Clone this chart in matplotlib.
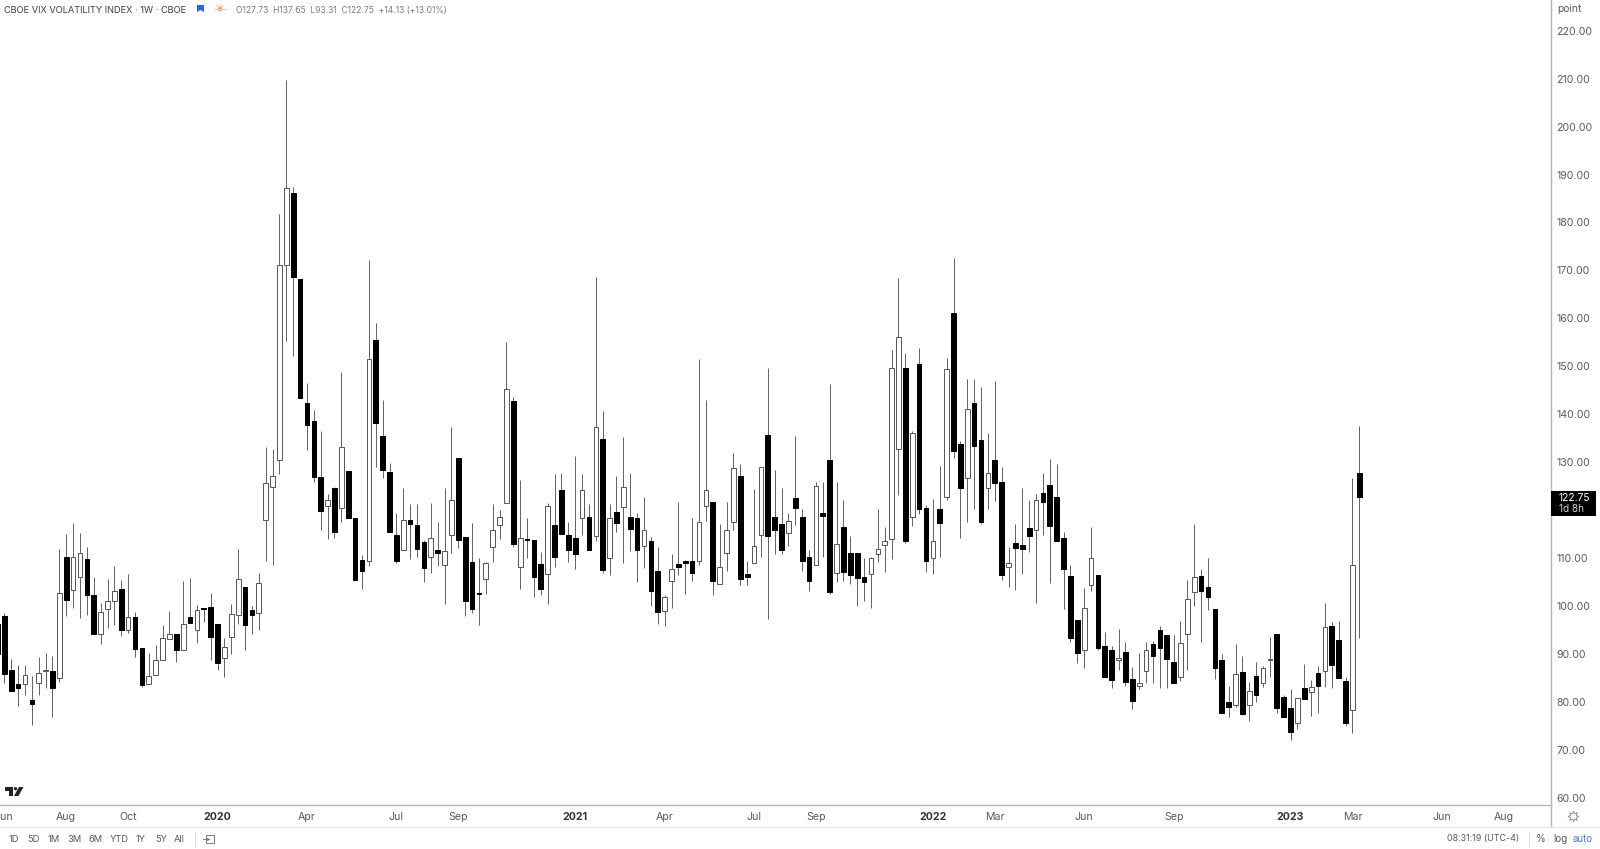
"""CBOE VIX weekly candles, TradingView style."""
import numpy as np
import matplotlib
matplotlib.use("Agg")
import matplotlib.pyplot as plt
from matplotlib.patches import Polygon, Rectangle, Circle

plt.rcParams["font.family"] = ["Inter", "DejaVu Sans"]

# weekly candles, first one is only just cut off by the left edge
opens = [
    96.4, 98.0, 86.8, 83.7, 83.7, 80.5, 83.9, 86.6, 86.6, 85.1, 110.3,
    103.3, 106.1, 109.9, 102.3, 94.3, 99.4, 101.0, 103.5, 95.0, 97.8,
    91.2, 83.7, 85.6, 88.9, 93.2, 94.3, 90.8, 97.8, 95.1, 99.6,
    99.8, 96.3, 89.2, 93.5, 98.1, 104.0, 99.3, 98.5, 118.0, 124.9,
    130.4, 171.2, 186.1, 168.2, 142.4, 138.6, 126.9, 120.8, 124.7, 120.4,
    128.2, 118.3, 109.6, 109.4, 155.5, 135.4, 127.9, 114.9, 111.7, 117.9,
    116.9, 113.3, 110.3, 111.7, 108.6, 114.9, 130.9, 114.4, 109.2, 102.8,
    105.6, 112.4, 117.0, 121.5, 142.7, 108.2, 114.1, 113.9, 108.8, 106.7,
    116.9, 124.3, 114.9, 114.2, 118.3, 118.7, 114.7, 134.8, 110.1, 119.6,
    120.6, 118.6, 118.3, 112.6, 113.5, 107.3, 99.0, 105.3, 108.8, 109.4,
    109.4, 109.5, 120.8, 121.8, 104.7, 111.0, 117.5, 127.2, 106.7, 109.0,
    114.8, 135.8, 118.6, 117.1, 115.3, 122.6, 118.6, 110.3, 108.7, 119.4,
    130.5, 106.9, 116.5, 111.0, 111.2, 106.2, 106.8, 110.8, 112.7, 114.0,
    132.7, 149.7, 118.7, 150.4, 120.4, 110.0, 120.3, 122.8, 161.1, 133.8,
    126.7, 142.4, 134.7, 124.7, 130.4, 125.9, 108.2, 113.1, 112.8, 116.4,
    115.8, 123.7, 125.3, 122.8, 114.2, 106.3, 97.1, 90.9, 104.4, 106.5,
    91.8, 90.9, 88.7, 90.5, 84.8, 83.4, 86.4, 92.1, 95.0, 94.0,
    88.4, 85.2, 94.3, 103.0, 106.4, 104.1, 99.4, 88.9, 80.1, 79.4,
    86.3, 79.5, 85.5, 83.9, 88.7, 94.3, 81.0, 78.7, 75.7, 83.0,
    82.2, 86.1, 86.4, 95.9, 93.0, 84.4, 78.3, 127.73,
]
highs = [
    96.4, 98.5, 89.1, 87.8, 87.8, 85.5, 89.5, 90.3, 89.6, 111.9, 115.1,
    117.4, 115.2, 112.3, 106.0, 100.6, 105.7, 108.4, 105.5, 106.7, 98.7,
    91.2, 90.3, 91.9, 96.0, 99.1, 94.3, 105.3, 105.8, 100.3, 99.7,
    102.7, 96.3, 93.3, 100.5, 111.9, 104.1, 100.1, 106.9, 133.1, 132.7,
    181.8, 209.7, 187.5, 168.2, 146.6, 140.9, 136.6, 123.4, 124.9, 148.9,
    128.2, 118.3, 110.7, 172.2, 159.0, 142.9, 129.8, 119.5, 124.6, 121.3,
    121.3, 113.8, 121.5, 117.6, 124.7, 137.4, 130.9, 114.4, 117.4, 110.1,
    109.3, 121.3, 120.1, 155.0, 143.7, 126.3, 118.3, 113.9, 111.4, 121.6,
    127.6, 127.7, 117.5, 131.3, 127.6, 121.3, 168.7, 140.8, 121.3, 127.2,
    135.3, 127.7, 119.4, 122.7, 114.4, 112.3, 102.3, 110.8, 121.8, 109.6,
    118.3, 151.5, 142.9, 121.8, 117.1, 121.8, 131.9, 129.7, 109.5, 124.4,
    129.0, 149.6, 128.4, 124.7, 119.4, 135.5, 120.2, 111.7, 125.8, 126.0,
    146.3, 125.8, 122.2, 114.6, 111.2, 110.1, 110.3, 120.3, 116.6, 153.4,
    168.4, 152.7, 136.5, 153.8, 121.1, 122.3, 129.3, 151.7, 172.7, 134.5,
    147.3, 147.4, 145.8, 136.2, 147.0, 129.0, 112.4, 117.1, 124.6, 122.2,
    123.5, 127.7, 130.7, 129.7, 115.5, 108.7, 97.1, 103.8, 116.6, 106.5,
    94.6, 91.8, 95.3, 92.6, 87.3, 90.2, 92.6, 92.8, 95.9, 94.0,
    94.0, 97.0, 105.5, 117.1, 107.7, 110.0, 99.4, 90.0, 83.4, 92.1,
    89.6, 84.3, 88.4, 87.5, 93.5, 94.3, 81.5, 82.8, 80.8, 88.0,
    84.6, 87.6, 100.6, 96.8, 96.9, 85.2, 126.7, 137.65,
]
lows = [
    90.0, 84.1, 82.4, 79.2, 81.5, 75.2, 81.6, 82.9, 77.0, 84.3, 98.0,
    99.7, 97.6, 98.2, 94.2, 92.1, 95.4, 96.0, 93.8, 94.4, 89.4,
    83.2, 83.7, 85.6, 88.9, 93.2, 88.3, 90.8, 96.5, 92.4, 96.8,
    88.8, 86.7, 85.3, 90.0, 96.3, 90.9, 94.2, 95.1, 109.5, 108.5,
    127.6, 155.2, 152.2, 143.4, 132.6, 126.0, 115.8, 114.0, 114.2, 117.6,
    118.3, 105.5, 103.7, 108.4, 129.1, 126.7, 115.4, 109.1, 111.7, 109.8,
    110.3, 105.0, 107.0, 108.4, 100.5, 111.0, 112.1, 98.0, 98.5, 96.1,
    102.6, 109.2, 114.1, 121.5, 112.4, 103.7, 110.1, 101.9, 102.3, 100.5,
    108.1, 115.1, 109.2, 107.8, 114.9, 111.7, 113.5, 107.0, 106.5, 115.4,
    109.1, 111.5, 105.1, 108.0, 100.0, 96.3, 95.9, 99.7, 106.5, 102.6,
    105.2, 108.7, 117.8, 102.3, 104.7, 107.4, 115.9, 104.4, 104.4, 109.0,
    110.3, 97.3, 110.8, 110.8, 112.6, 116.9, 107.4, 103.2, 108.7, 110.2,
    102.5, 105.0, 105.3, 104.6, 100.1, 101.1, 99.7, 109.3, 107.1, 109.8,
    123.2, 113.1, 116.8, 119.2, 107.2, 106.7, 110.2, 122.2, 131.0, 114.2,
    117.6, 120.2, 117.1, 120.2, 122.0, 105.5, 104.1, 103.4, 106.7, 111.4,
    100.7, 114.9, 104.9, 113.7, 99.4, 92.6, 88.2, 87.2, 103.2, 90.9,
    85.2, 82.9, 86.8, 83.4, 78.6, 82.7, 84.1, 84.1, 83.0, 83.0,
    84.0, 84.5, 86.7, 100.0, 92.5, 99.2, 84.8, 77.7, 77.0, 79.1,
    77.3, 76.1, 80.0, 83.2, 85.2, 77.7, 77.0, 72.1, 74.5, 80.7,
    77.1, 77.7, 83.2, 82.9, 85.0, 75.0, 73.5, 93.31,
]
closes = [
    90.0, 85.9, 82.4, 83.0, 85.7, 79.7, 86.0, 86.8, 82.9, 102.7, 101.3,
    110.2, 111.2, 102.4, 94.2, 98.9, 101.0, 103.2, 95.1, 97.7, 91.1,
    83.6, 85.5, 88.9, 93.3, 94.3, 90.9, 96.4, 96.5, 99.3, 99.5,
    93.6, 88.2, 91.6, 98.3, 105.6, 96.0, 98.2, 104.8, 125.6, 127.1,
    171.2, 187.2, 168.6, 143.4, 137.7, 126.9, 119.8, 122.2, 115.4, 133.1,
    118.3, 105.5, 107.4, 151.5, 138.3, 128.5, 115.4, 109.5, 118.0, 117.1,
    111.9, 108.0, 114.2, 111.1, 111.5, 122.1, 113.8, 101.0, 99.5, 102.6,
    109.1, 115.8, 118.7, 145.2, 112.9, 114.2, 113.9, 106.1, 103.6, 120.8,
    110.2, 115.1, 111.7, 110.8, 124.2, 111.7, 137.4, 107.5, 118.4, 117.3,
    124.9, 116.1, 111.7, 115.8, 103.1, 98.8, 102.0, 107.7, 108.2, 109.1,
    106.9, 117.5, 124.2, 105.3, 108.1, 116.0, 128.8, 105.7, 106.1, 112.5,
    129.0, 114.7, 116.0, 111.8, 117.7, 120.4, 109.4, 105.3, 125.1, 118.8,
    103.0, 113.0, 107.1, 106.5, 105.9, 105.0, 110.1, 112.0, 113.7, 149.6,
    156.1, 113.7, 136.1, 120.3, 109.5, 113.7, 117.4, 149.5, 132.4, 124.7,
    141.2, 133.5, 117.6, 127.8, 125.6, 106.5, 109.1, 112.1, 112.0, 114.6,
    122.2, 121.8, 116.7, 113.7, 107.7, 93.4, 90.2, 99.6, 110.0, 91.2,
    85.3, 84.6, 89.2, 84.3, 80.2, 84.0, 90.9, 89.6, 91.4, 89.0,
    84.0, 92.3, 101.5, 106.1, 103.2, 101.9, 87.1, 77.8, 79.1, 85.8,
    77.5, 82.4, 81.5, 87.2, 89.1, 78.7, 77.0, 73.7, 80.8, 80.7,
    83.1, 83.3, 95.6, 87.7, 85.0, 75.7, 108.7, 122.75,
]

# week number of each date label on the time axis
date_pos = [0, 9, 18, 31, 44, 57, 66, 83, 96, 109, 118, 135, 144, 157, 170,
            187, 196, 209, 218]
date_labels = ["Jun", "Aug", "Oct", "2020", "Apr", "Jul", "Sep", "2021", "Apr",
               "Jul", "Sep", "2022", "Mar", "Jun", "Sep", "2023", "Mar", "Jun",
               "Aug"]
# 120.00 sits behind the last-price badge, so it is not shown
price_ticks = [60, 70, 80, 90, 100, 110, 130, 140, 150, 160, 170, 180,
               190, 200, 210, 220]

ranges = ["1D", "5D", "1M", "3M", "6M", "YTD", "1Y", "5Y", "All"]
range_x = [14, 33, 54, 75, 96, 119, 141, 161, 179]

AXIS_GREY = "#b4b6bc"
TEXT = "#565a64"


def main():
    o = np.array(opens)
    h = np.array(highs)
    l = np.array(lows)
    c = np.array(closes)
    xs = np.arange(len(o)) - 1
    up = c > o

    fig = plt.figure(figsize=(16, 8.49), dpi=100)
    ax = fig.add_axes([0, 44 / 849, 1551 / 1600, 805 / 849])

    ax.vlines(xs, l, h, color="#666666", lw=0.72, zorder=1)
    ax.bar(xs[up], (c - o)[up], bottom=o[up], width=0.68, facecolor="white",
           edgecolor="#5a5a5a", linewidth=0.72, zorder=2)
    ax.bar(xs[~up], (o - c)[~up], bottom=c[~up], width=0.68, facecolor="black",
           edgecolor="black", linewidth=0.72, zorder=2)

    ax.set_xlim(-0.63, 224.87)
    ax.set_ylim(58.57, 226.38)

    ax.yaxis.tick_right()
    ax.set_yticks(price_ticks, [f"{v:.2f}" for v in price_ticks])
    ax.set_xticks(date_pos, date_labels)
    ax.tick_params(axis="y", length=0, pad=4, labelsize=7.6, labelcolor=TEXT)
    ax.tick_params(axis="x", length=0, pad=5, labelsize=7.6, labelcolor=TEXT)
    for lab in ax.get_xticklabels():
        if lab.get_text().isdigit():
            lab.set_fontweight("bold")
            lab.set_color("#30333b")
    for side in ["top", "left"]:
        ax.spines[side].set_visible(False)
    for side in ["right", "bottom"]:
        ax.spines[side].set_color(AXIS_GREY)
        ax.spines[side].set_linewidth(1.0)

    # everything around the chart, placed in screen pixels
    ov = fig.add_axes([0, 0, 1, 1], facecolor="none")
    ov.set_xlim(0, 1600)
    ov.set_ylim(849, 0)
    ov.axis("off")

    # the price axis line runs on through the date strip
    ov.plot([1551, 1551], [805, 826], color=AXIS_GREY, lw=1.0)
    ov.plot([0, 1600], [826.5, 826.5], color="#e6e7ea", lw=0.8)

    # header
    ov.text(4, 10, "CBOE VIX VOLATILITY INDEX · 1W · CBOE", fontsize=6.65,
            color="#3c3f48", va="center")
    ov.add_patch(Polygon([(197, 5), (204, 5), (204, 12), (200.5, 10), (197, 12)],
                         closed=True, color="#2962ff", lw=0))
    ov.add_patch(Circle((220, 9), 2.4, color="#f7a35c", lw=0))
    ov.plot([214.5, 225.5], [9, 9], color="#f9c9a0", lw=0.8)
    ov.plot([220, 220], [4, 6], color="#f9c9a0", lw=0.8)
    ov.plot([216, 217.5], [5, 6.5], color="#f9c9a0", lw=0.7)
    ov.plot([224, 222.5], [5, 6.5], color="#f9c9a0", lw=0.7)
    ov.text(236, 10, "O127.73  H137.65  L93.31  C122.75  +14.13 (+13.01%)",
            fontsize=6.1, color="#777b85", va="center")

    # price axis extras
    ov.text(1557, 8.5, "point", fontsize=7.4, color=TEXT, va="center")
    ov.add_patch(Rectangle((1551, 491), 45, 25, color="black", lw=0, zorder=5))
    ov.text(1559, 497.5, "122.75", fontsize=7.4, color="white", va="center", zorder=6)
    ov.text(1559, 509.5, "1d 8h", fontsize=7.2, color="#d0d0d0", va="center", zorder=6)
    ov.plot([1573], [816], marker=(8, 1, 0), ms=8, mfc="white", mec="#8a8d95",
            mew=0.6, ls="none")

    # logo in the corner of the chart
    ov.add_patch(Polygon([(5, 787), (13, 787), (13, 796), (9, 796), (9, 790.5), (5, 790.5)],
                         closed=True, color="#1e222d", lw=0))
    ov.add_patch(Circle((15.5, 788.7), 1.7, color="#1e222d", lw=0))
    ov.add_patch(Polygon([(19, 787), (23.5, 787), (18.5, 796), (14, 796)],
                         closed=True, color="#1e222d", lw=0))

    # bottom toolbar
    for lab, x in zip(ranges, range_x):
        ov.text(x, 839, lab, fontsize=6.7, color=TEXT, ha="center", va="center")
    ov.plot([194.5, 194.5], [832, 846], color="#dcdde1", lw=0.8)
    # go-to-date icon: open bracket with an arrow through it
    ov.plot([206, 206, 214, 214, 206, 206], [838, 835, 835, 843, 843, 841],
            color="#777b85", lw=0.7)
    ov.annotate("", xy=(210.5, 839.5), xytext=(203.5, 839.5),
                arrowprops=dict(arrowstyle="->", color="#777b85", lw=0.7,
                                mutation_scale=5, shrinkA=0, shrinkB=0))
    ov.text(1519, 839, "08:31:19 (UTC-4)", fontsize=6.4, color=TEXT, ha="right", va="center")
    ov.plot([1529, 1529], [832, 846], color="#dcdde1", lw=0.8)
    ov.text(1541, 838.5, "%", fontsize=7.2, color=TEXT, ha="center", va="center")
    ov.text(1560, 839, "log", fontsize=7.0, color=TEXT, ha="center", va="center")
    ov.text(1583, 839, "auto", fontsize=7.0, color="#4a78e8", ha="center", va="center")

    fig.savefig("out.png", dpi=100)


if __name__ == "__main__":
    main()
